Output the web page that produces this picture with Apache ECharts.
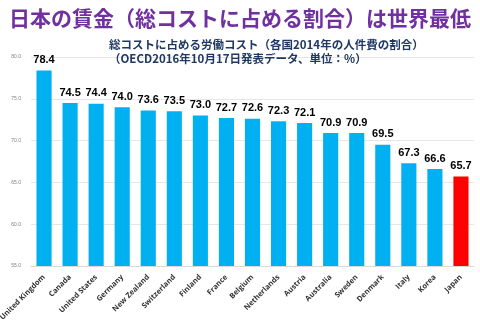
<!DOCTYPE html>
<html><head><meta charset="utf-8">
<script src="https://cdn.jsdelivr.net/npm/echarts@6/dist/echarts.min.js"></script>
<style>html,body{margin:0;padding:0;background:#fff}#c{width:480px;height:321px}</style>
</head><body><div id="c"></div>
<script>
const categories = ["United Kingdom","Canada","United States","Germany","New Zealand","Switzerland","Finland","France","Belgium","Netherlands","Austria","Australia","Sweden","Denmark","Italy","Korea","Japan"];
const values = [78.4,74.5,74.4,74.0,73.6,73.5,73.0,72.7,72.6,72.3,72.1,70.9,70.9,69.5,67.3,66.6,65.7];
const highlight = "Japan";
const yTicks = [55,60,65,70,75,80];

const chart = echarts.init(document.getElementById('c'));
chart.setOption({
  animation:false,
  title:[{
    text:"日本の賃金（総コストに占める割合）は世界最低",
    left:'center', top:3,
    textStyle:{color:'#7030A0',fontSize:21,fontWeight:'bold',fontFamily:'Noto Sans CJK JP'}
  },{
    text:"総コストに占める労働コスト（各国2014年の人件費の割合）\n（OECD2016年10月17日発表データ、単位：%）",
    left:104, top:33,
    textStyle:{color:'#1F3864',fontSize:11.5,fontWeight:'bold',lineHeight:14,fontFamily:'Noto Sans CJK JP'}
  }],
  grid:{left:31,right:6,top:57,bottom:55,outerBoundsMode:'none',containLabel:false},
  xAxis:{type:'category',data:categories,
    axisLine:{lineStyle:{color:'#d9d9d9'}},axisTick:{show:false},
    axisLabel:{rotate:45,fontSize:7.5,fontWeight:'bold',color:'#333',interval:0,margin:10,fontFamily:'Open Sans'}},
  yAxis:{type:'value',min:yTicks[0],max:yTicks[yTicks.length-1],interval:5,
    axisLabel:{fontSize:5,color:'#808080',formatter:v=>v.toFixed(1),margin:10},
    splitLine:{lineStyle:{color:'#e6e6e6'}},axisLine:{show:false},axisTick:{show:false}},
  series:[{type:'bar',barCategoryGap:'42%',
    data:values.map((v,i)=>({value:v,itemStyle:{color:categories[i]===highlight?'#FF0000':'#00B0F0'}})),
    label:{show:true,position:'top',distance:5,fontSize:11,fontWeight:'bold',color:'#000',formatter:p=>p.value.toFixed(1)}
  }]
});
</script></body></html>
